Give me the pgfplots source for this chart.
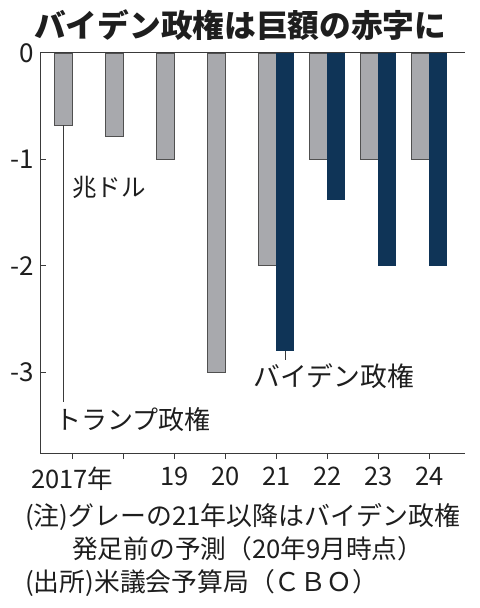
\documentclass[border=0pt]{standalone}
\usepackage{fontspec}
\setmainfont{Noto Sans CJK JP}
\usepackage{pgfplots}
\pgfplotsset{compat=1.18}
\definecolor{barg}{HTML}{A8A9AD}
\definecolor{bargd}{HTML}{505050}
\definecolor{navy}{HTML}{0F3457}
\definecolor{axc}{HTML}{3A3A3A}
\definecolor{txt}{HTML}{1E1E1E}
\newcommand\fs[1]{\fontsize{#1}{#1}\selectfont}
\begin{document}
\begin{tikzpicture}
\path[use as bounding box] (0,0) rectangle (480bp,-608bp);
\begin{axis}[
 at={(40bp,-453bp)}, anchor=south west,
 scale only axis, width=425bp, height=400bp,
 xmin=-0.63, xmax=7.7, ymin=-3.76, ymax=0,
 axis lines=left, axis line style={-, draw=axc, line width=1bp},
 tick align=inside, major tick length=6bp, tick style={draw=axc, line width=1bp},
 xtick={0,...,7}, xticklabels={2017年,,19,20,21,22,23,24},
 ytick={0,-1,-2,-3}, yticklabels={0,-1,-2,-3},
 xticklabel style={font=\fs{25.5bp}, text=txt, inner sep=0pt, anchor=north, yshift=-8bp},
 yticklabel style={font=\fs{26bp}, text=txt, inner sep=0pt, anchor=east, xshift=-6bp},
 ybar=0pt, bar width=17.5bp,
 clip=false,
]
\addplot[fill=barg, draw=bargd, line width=0.8bp] coordinates {(0,-0.68) (1,-0.78) (2,-1.0) (3,-3.0) (4,-2.0) (5,-1.0) (6,-1.0) (7,-1.0)};
\addplot[fill=navy, draw=navy, line width=0.8bp] coordinates {(4,-2.8) (5,-1.38) (6,-2.0) (7,-2.0)};
\draw[axc, line width=1bp] (axis cs:-0.63,0) -- (axis cs:7.7,0);
\draw[axc, line width=0.8bp] (axis cs:-0.175,-0.68) -- (axis cs:-0.175,-3.28);
\draw[axc, line width=0.8bp] (axis cs:4.17,-2.8) -- (axis cs:4.17,-2.89);
\end{axis}
\node[anchor=west, inner sep=0, text=txt] at (34bp,-25bp) {\fs{31.7bp}\bfseries バイデン政権は巨額の赤字に};
\node[anchor=west, inner sep=0, text=txt] at (72bp,-187bp) {\fs{24.5bp}兆ドル};
\node[anchor=west, inner sep=0, text=txt] at (55bp,-420bp) {\fs{26bp}トランプ政権};
\node[anchor=west, inner sep=0, text=txt] at (253bp,-376bp) {\fs{26.8bp}バイデン政権};
\node[anchor=west, inner sep=0, text=txt] at (25bp,-517bp) {\fs{25.9bp}(注)グレーの21年以降はバイデン政権};
\node[anchor=west, inner sep=0, text=txt] at (72bp,-549bp) {\fs{25.7bp}発足前の予測（20年9月時点）};
\node[anchor=west, inner sep=0, text=txt] at (25bp,-583bp) {\fs{25.8bp}(出所)米議会予算局（ＣＢＯ）};
\end{tikzpicture}
\end{document}
